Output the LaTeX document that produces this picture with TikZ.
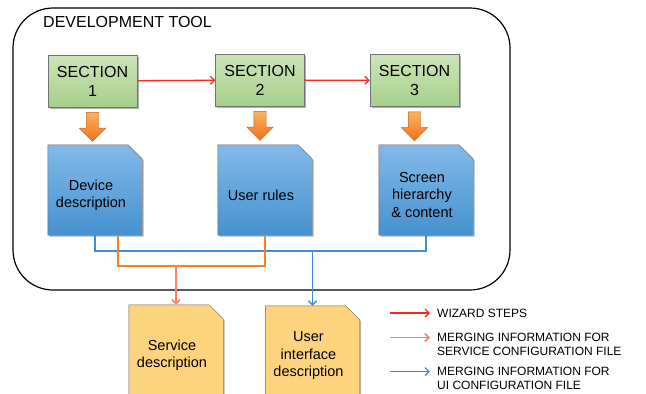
\documentclass[tikz,border=0pt]{standalone}
\usepackage{fontspec}
\setmainfont{Liberation Sans}
\usetikzlibrary{arrows.meta, positioning, shapes.arrows, shadows}
\definecolor{wizardred}{RGB}{250,40,30}
\definecolor{mergeorange}{RGB}{245,130,40}
\definecolor{mergesalmon}{RGB}{248,132,100}
\definecolor{mergeblue}{RGB}{65,140,210}
\definecolor{greentop}{RGB}{205,228,185}
\definecolor{greenbot}{RGB}{166,208,138}
\definecolor{bluetop}{RGB}{130,185,232}
\definecolor{bluebot}{RGB}{70,145,208}
\definecolor{yellowdoc}{RGB}{253,212,125}
\definecolor{arrowtop}{RGB}{250,178,98}
\definecolor{arrowbot}{RGB}{238,112,28}

\tikzset{
  softshadow/.style={drop shadow={shadow xshift=1.5pt, shadow yshift=-1.5pt, opacity=0.3, fill=black}},
  toolbox/.style={draw, line width=1.2pt, rounded corners=40pt, minimum width=497pt, minimum height=282pt},
  section/.style={draw=black!55, top color=greentop, bottom color=greenbot, softshadow,
    minimum width=89pt, minimum height=52pt, align=center, font=\fontsize{16}{19}\selectfont},
  % page with a folded top right corner, drawn under the node's label
  doc/.style={minimum width=94pt, minimum height=90pt, inner sep=0pt,
    append after command={\pgfextra{
      \path[softshadow, draw=black!60, #1] (\tikzlastnode.south west) -- (\tikzlastnode.north west)
        -- ([xshift=-14pt]\tikzlastnode.north east) -- ([yshift=-14pt]\tikzlastnode.north east)
        -- (\tikzlastnode.south east) -- cycle;}}},
  bluedoc/.style={doc={top color=bluetop, bottom color=bluebot}},
  yellowdoc/.style={doc={fill=yellowdoc}, minimum height=110pt},
  doctext/.style={align=center, font=\fontsize{14.5}{17.5}\selectfont, xshift=-4pt},
  downarrow/.style={single arrow, shape border rotate=270, draw=arrowbot!85!black, top color=arrowtop,
    bottom color=arrowbot, minimum width=23pt, minimum height=29pt, inner sep=6pt},
  wizard/.style={draw=wizardred, line width=1.3pt, -{Straight Barb[length=4pt, width=8pt]}},
  mergesvc/.style={draw=mergeorange, line width=1.6pt},
  mergeui/.style={draw=mergeblue, line width=1.3pt},
  legend/.style={align=left, inner sep=0pt, font=\fontsize{12}{14}\selectfont},
}

\begin{document}
\begin{tikzpicture}[x=1pt, y=-1pt]
  \clip (0,0) rectangle (646,394);

  % development tool frame
  \node[toolbox] (tool) at (261.5,149) {};
  \node[anchor=west, font=\fontsize{16}{19}\selectfont, inner sep=0pt] (toollabel) at (43,22) {DEVELOPMENT TOOL};

  % wizard sections
  \node[section] (s1) at (92.5,81) {SECTION\\1};
  \node[section] (s2) at (260,80) {SECTION\\2};
  \node[section] (s3) at (414.5,80.5) {SECTION\\3};
  \draw[wizard] (s1) -- (s2);
  \draw[wizard] (s2) -- (s3);

  % files written by each section
  \node[bluedoc, label={[doctext, yshift=-5pt]center:Device\\description}] (d1) at (95,190) {};
  \node[bluedoc, label={[doctext, yshift=-5pt]center:User rules}] (d2) at (265,190) {};
  \node[bluedoc, label={[doctext, yshift=-5pt]center:Screen\\hierarchy\\\& content}] (d3) at (426,190) {};

  \node[downarrow, below=5pt of s1] (a1) {};
  \node[downarrow, below=5pt of s2] (a2) {};
  \node[downarrow, below=5pt of s3] (a3) {};

  % output files
  \node[yellowdoc, label={[doctext, yshift=5pt]center:Service\\description}] (svc) at (176,360) {};
  \node[yellowdoc, label={[doctext, yshift=5pt]center:User\\interface\\description}] (ui) at (312.5,361) {};

  % merging lines
  \coordinate (blueline) at (0,251);
  \coordinate (orangeline) at (0,266);
  \draw[mergeui] (d1.south) |- (blueline -| d3) -- (d3.south);
  \draw[mergeui, -{Straight Barb[length=4pt, width=8pt]}] (blueline -| ui) -- (ui.north);
  \draw[mergesvc] ([xshift=23pt]d1.south) |- (orangeline -| d2) -- (d2.south);
  \draw[draw=mergesalmon, line width=1.6pt, -{Straight Barb[length=4pt, width=8pt]}] (orangeline -| svc) -- (svc.north);

  % legend
  \coordinate (lgr1) at (390,313);   \coordinate (lgr2) at (430,313);
  \coordinate (lgs1) at (390,337.5); \coordinate (lgs2) at (430,337.5);
  \coordinate (lgb1) at (390,371.5); \coordinate (lgb2) at (430,371.5);
  \draw[wizard] (lgr1) -- (lgr2);
  \draw[draw=mergesalmon, line width=1.6pt, -{Straight Barb[length=4pt, width=8pt]}] (lgs1) -- (lgs2);
  \draw[mergeui, -{Straight Barb[length=4pt, width=8pt]}] (lgb1) -- (lgb2);
  \node[legend, anchor=west] (lgtr) at (437,313) {WIZARD STEPS};
  \node[legend, anchor=north west] (lgts) at (437,333.2) {MERGING INFORMATION FOR\\SERVICE CONFIGURATION FILE};
  \node[legend, anchor=north west] (lgtb) at (437,367.2) {MERGING INFORMATION FOR\\UI CONFIGURATION FILE};
\end{tikzpicture}
\end{document}
